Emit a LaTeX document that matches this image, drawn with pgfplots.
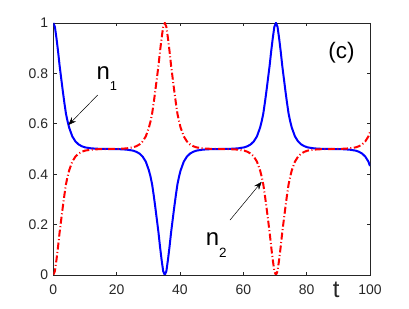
\documentclass[border=0pt]{standalone}
\usepackage{fontspec}
\setmainfont{Liberation Sans}
\usepackage{pgfplots}
\usepackage{pgfplotstable}
\pgfplotsset{compat=1.18}
\usetikzlibrary{arrows.meta}
\definecolor{axgray}{rgb}{0.15,0.15,0.15}
\pgfplotstableread{
t n1 n2
0 1.000 0.000
0.5 0.985 0.015
1 0.940 0.060
1.5 0.888 0.112
2 0.830 0.170
2.5 0.780 0.220
3 0.730 0.270
3.5 0.683 0.317
4 0.640 0.360
4.5 0.610 0.390
5 0.585 0.415
6 0.550 0.450
7 0.530 0.470
8 0.518 0.482
9 0.511 0.489
10 0.5065 0.4935
12 0.5025 0.4975
14 0.501 0.499
17.6 0.500 0.500
21.2 0.499 0.501
23.2 0.4975 0.5025
25.2 0.4935 0.5065
26.2 0.489 0.511
27.2 0.482 0.518
28.2 0.470 0.530
29.2 0.450 0.550
30.2 0.415 0.585
30.7 0.390 0.610
31.2 0.360 0.640
31.7 0.317 0.683
32.2 0.270 0.730
32.7 0.220 0.780
33.2 0.170 0.830
33.7 0.112 0.888
34.2 0.060 0.940
34.7 0.015 0.985
35.2 0.000 1.000
35.7 0.015 0.985
36.2 0.060 0.940
36.7 0.112 0.888
37.2 0.170 0.830
37.7 0.220 0.780
38.2 0.270 0.730
38.7 0.317 0.683
39.2 0.360 0.640
39.7 0.390 0.610
40.2 0.415 0.585
41.2 0.450 0.550
42.2 0.470 0.530
43.2 0.482 0.518
44.2 0.489 0.511
45.2 0.4935 0.5065
47.2 0.4975 0.5025
49.2 0.499 0.501
52.75 0.500 0.500
56.3 0.501 0.499
58.3 0.5025 0.4975
60.3 0.5065 0.4935
61.3 0.511 0.489
62.3 0.518 0.482
63.3 0.530 0.470
64.3 0.550 0.450
65.3 0.585 0.415
65.8 0.610 0.390
66.3 0.640 0.360
66.8 0.683 0.317
67.3 0.730 0.270
67.8 0.780 0.220
68.3 0.830 0.170
68.8 0.888 0.112
69.3 0.940 0.060
69.8 0.985 0.015
70.3 1.000 0.000
70.8 0.985 0.015
71.3 0.940 0.060
71.8 0.888 0.112
72.3 0.830 0.170
72.8 0.780 0.220
73.3 0.730 0.270
73.8 0.683 0.317
74.3 0.640 0.360
74.8 0.610 0.390
75.3 0.585 0.415
76.3 0.550 0.450
77.3 0.530 0.470
78.3 0.518 0.482
79.3 0.511 0.489
80.3 0.5065 0.4935
82.3 0.5025 0.4975
84.3 0.501 0.499
87.9 0.500 0.500
91.5 0.499 0.501
93.5 0.4975 0.5025
95.5 0.4935 0.5065
96.5 0.489 0.511
97.5 0.482 0.518
98.5 0.470 0.530
99.5 0.450 0.550
100 0.4325 0.5675
}\datatable
\begin{document}
\begin{tikzpicture}
\path[use as bounding box] (-53.3bp,-34bp) rectangle (355.7bp,275bp);
\begin{axis}[
  scale only axis, width=316.7bp, height=252bp,
  xmin=0, xmax=100, ymin=0, ymax=1,
  xtick={0,20,40,60,80,100}, ytick={0,0.2,0.4,0.6,0.8,1},
  axis line style={axgray, line width=0.9bp},
  every tick/.style={axgray, line width=0.9bp},
  major tick length=3.3bp,
  tick align=inside,
  /pgf/number format/assume math mode=true,
  tick label style={font=\fontsize{14}{14}\selectfont, text=axgray, inner sep=0pt},
  xticklabel style={anchor=north, yshift=-10bp},
  yticklabel style={anchor=east, xshift=-5bp},
  xlabel={t},
  xlabel style={at={(axis description cs:0.893,-0.0595)}, anchor=center, inner sep=0pt, font=\fontsize{24}{24}\selectfont, text=axgray},
]
\addplot[blue, line width=2bp] table[x=t, y=n1] {\datatable};
\addplot[red, line width=2bp, dash pattern=on 7bp off 2.5bp on 1bp off 2.5bp] table[x=t, y=n2] {\datatable};
\draw[black, line width=0.5bp, -{Stealth[length=8bp,width=6bp]}] (axis cs:14.0,0.714) -- (axis cs:4.74,0.595);
\draw[black, line width=0.5bp, -{Stealth[length=8bp,width=6bp]}] (axis cs:55.8,0.218) -- (axis cs:65.8,0.370);
\node[anchor=base west, inner sep=0pt, font=\fontsize{24}{24}\selectfont] at (axis cs:13.6,0.774) {n\raisebox{-11bp}{\fontsize{13}{13}\selectfont 1}};
\node[anchor=base west, inner sep=0pt, font=\fontsize{24}{24}\selectfont] at (axis cs:48.1,0.119) {n\raisebox{-12bp}{\fontsize{13.5}{13.5}\selectfont 2}};
\node[anchor=center, inner sep=0pt, font=\fontsize{22.5}{22.5}\selectfont] at (rel axis cs:0.91,0.882) {(c)};
\end{axis}
\end{tikzpicture}
\end{document}
